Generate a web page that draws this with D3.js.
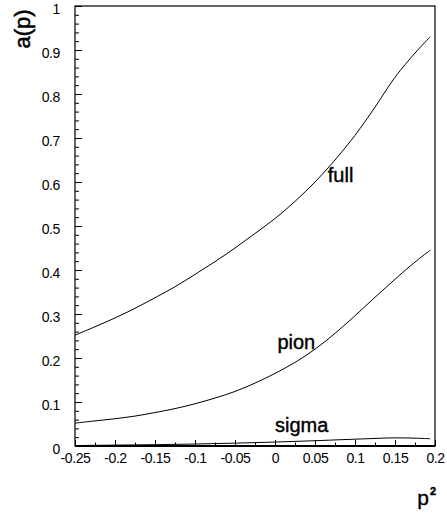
<!DOCTYPE html>
<html>
<head>
<meta charset="utf-8">
<script src="https://cdn.jsdelivr.net/npm/d3@7"></script>
<style>
  html, body { margin: 0; padding: 0; background: #fff; }
  svg { display: block; }
  text { font-family: "Liberation Sans", Arial, sans-serif; fill: #000; }
</style>
</head>
<body>
<svg id="chart" width="447" height="516"></svg>
<script>
// ---- data ----
const pValues = [-0.25, -0.225, -0.2, -0.175, -0.15, -0.125, -0.1, -0.075, -0.05, -0.025,
                 0, 0.025, 0.05, 0.075, 0.1, 0.125, 0.15, 0.175, 0.194];
const fullValues = [0.252, 0.271, 0.291, 0.313, 0.337, 0.362, 0.390, 0.419, 0.450, 0.483,
                    0.517, 0.556, 0.600, 0.650, 0.706, 0.770, 0.838, 0.893, 0.930];
const pionValues = [0.052, 0.057, 0.062, 0.068, 0.076, 0.085, 0.096, 0.109, 0.124, 0.143,
                    0.165, 0.190, 0.220, 0.256, 0.296, 0.338, 0.379, 0.418, 0.445];
const sigmaValues = [0.001, 0.0015, 0.002, 0.0025, 0.003, 0.0037, 0.0045, 0.0055, 0.0065, 0.0077,
                     0.009, 0.0105, 0.012, 0.0138, 0.0155, 0.0172, 0.0185, 0.0178, 0.0165];

const xTickValues = [-0.25, -0.2, -0.15, -0.1, -0.05, 0, 0.05, 0.1, 0.15, 0.2];
const xTickLabels = ["-0.25", "-0.2", "-0.15", "-0.1", "-0.05", "0", "0.05", "0.1", "0.15", "0.2"];
const yTickValues = [0, 0.1, 0.2, 0.3, 0.4, 0.5, 0.6, 0.7, 0.8, 0.9, 1];
const yTickLabels = ["0", "0.1", "0.2", "0.3", "0.4", "0.5", "0.6", "0.7", "0.8", "0.9", "1"];

const curveLabels = [
  { name: "full", p: 0.066, v: 0.600 },
  { name: "pion", p: 0.003, v: 0.220 },
  { name: "sigma", p: 0.0, v: 0.032 }
];

// ---- layout ----
const mLeft = 75, mRight = 435, mTop = 6, mBottom = 446;
const svg = d3.select("#chart");
const x = d3.scaleLinear().domain([-0.25, 0.2]).range([mLeft, mRight]);
const y = d3.scaleLinear().domain([0, 1]).range([mBottom, mTop]);

// minor ticks
const xMinor = d3.range(-0.25, 0.2001, 0.025).filter(v => !xTickValues.some(t => Math.abs(t - v) < 1e-6));
const yMinor = d3.range(0, 1.0001, 0.02).filter(v => !yTickValues.some(t => Math.abs(t - v) < 1e-6));

// X axis (ticks pointing inward/up)
const xAxis = d3.axisBottom(x).tickValues(xTickValues)
  .tickFormat((d, i) => xTickLabels[i]).tickSizeInner(-6).tickSizeOuter(0).tickPadding(10);
const gx = svg.append("g").attr("transform", `translate(0,${mBottom})`).call(xAxis);
gx.select(".domain").remove();
gx.selectAll(".tick line").attr("stroke", "#000");
gx.selectAll(".tick text").attr("font-size", 14).attr("letter-spacing", "-0.4px")
  .attr("fill", "#111").attr("dy", null).attr("y", 17);
svg.append("g").attr("transform", `translate(0,${mBottom})`)
  .call(d3.axisBottom(x).tickValues(xMinor).tickSizeInner(-3.5).tickSizeOuter(0).tickFormat(""))
  .call(g => g.select(".domain").remove())
  .selectAll(".tick line").attr("stroke", "#000");

// Y axis (ticks pointing inward/right)
const yAxis = d3.axisLeft(y).tickValues(yTickValues)
  .tickFormat((d, i) => yTickLabels[i]).tickSizeInner(-7).tickSizeOuter(0).tickPadding(15);
const gy = svg.append("g").attr("transform", `translate(${mLeft},0)`).call(yAxis);
gy.select(".domain").remove();
gy.selectAll(".tick line").attr("stroke", "#000");
gy.selectAll(".tick text").attr("font-size", 14).attr("letter-spacing", "-0.4px")
  .attr("fill", "#111").attr("dy", "0.5em");
svg.append("g").attr("transform", `translate(${mLeft},0)`)
  .call(d3.axisLeft(y).tickValues(yMinor).tickSizeInner(-4).tickSizeOuter(0).tickFormat(""))
  .call(g => g.select(".domain").remove())
  .selectAll(".tick line").attr("stroke", "#000");

// frame
svg.append("rect").attr("x", mLeft).attr("y", mTop)
  .attr("width", mRight - mLeft).attr("height", mBottom - mTop)
  .attr("fill", "none").attr("stroke", "#000").attr("stroke-width", 1.2);
svg.append("line").attr("x1", mLeft).attr("x2", mRight).attr("y1", mBottom).attr("y2", mBottom)
  .attr("stroke", "#000").attr("stroke-width", 2);

// curves
const line = d3.line().x(d => x(d[0])).y(d => y(d[1])).curve(d3.curveCatmullRom.alpha(0.5));
const series = [
  d3.zip(pValues, fullValues),
  d3.zip(pValues, pionValues),
  d3.zip(pValues, sigmaValues)
];
svg.append("g").selectAll("path").data(series).join("path")
  .attr("d", line).attr("fill", "none").attr("stroke", "#000").attr("stroke-width", 1);

// curve labels
svg.append("g").selectAll("text").data(curveLabels).join("text")
  .attr("x", d => x(d.p)).attr("y", d => y(d.v))
  .attr("font-size", 20).attr("stroke", "#000").attr("stroke-width", 0.4)
  .text(d => d.name);

// axis titles
svg.append("text").attr("transform", "translate(30,29) rotate(-90)")
  .attr("text-anchor", "middle").attr("font-size", 22)
  .attr("stroke", "#000").attr("stroke-width", 0.5).text("a(p)");
const xt = svg.append("text").attr("x", 436).attr("y", 505)
  .attr("text-anchor", "end").attr("font-size", 21)
  .attr("stroke", "#000").attr("stroke-width", 0.4);
xt.append("tspan").text("p");
xt.append("tspan").attr("font-size", 11).attr("font-weight", "bold").attr("dy", -10).attr("dx", 1).text("2");
</script>
</body>
</html>
